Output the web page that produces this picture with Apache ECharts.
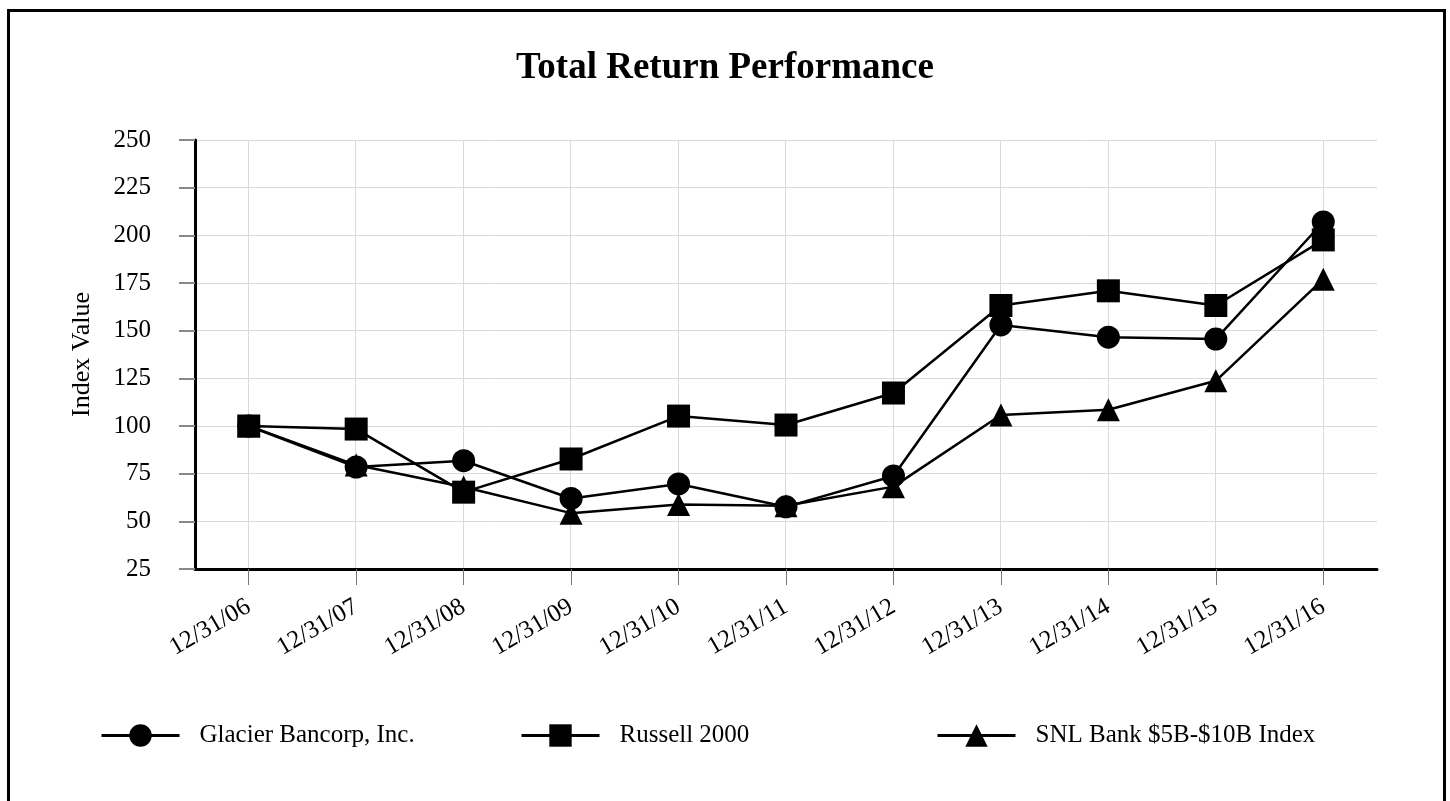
<!DOCTYPE html>
<html>
<head>
<meta charset="utf-8">
<script src="https://cdn.jsdelivr.net/npm/echarts@6/dist/echarts.min.js"></script>
<style>
html,body{margin:0;padding:0;background:#fff;}
#chart{width:1450px;height:801px;}
</style>
</head>
<body>
<div id="chart"></div>
<script>
const categories = ['12/31/06','12/31/07','12/31/08','12/31/09','12/31/10','12/31/11','12/31/12','12/31/13','12/31/14','12/31/15','12/31/16'];
const glacier = [100, 78.5, 81.8, 62, 69.6, 57.6, 73.8, 153, 146.6, 145.6, 207];
const russell = [100, 98.4, 65.3, 82.7, 105.2, 100.5, 117.3, 163.2, 170.9, 163.2, 197.6];
const snl = [100, 79.5, 68, 54.3, 58.8, 58.2, 68.2, 105.8, 108.5, 123.7, 177];
const yTicks = {min: 25, max: 250, interval: 25};
const FONT = 'Liberation Serif';

const chart = echarts.init(document.getElementById('chart'));
const legendBase = {
  orient: 'horizontal', top: 723, padding: 0, itemWidth: 78, itemHeight: 28,
  lineStyle: {width: 3, color: '#000'},
  textStyle: {fontFamily: FONT, fontSize: 25, color: '#000', padding: [0,0,0,15]}
};
const mk = (name, data, symbol) => ({
  name, type: 'line', data, symbol, symbolSize: 23, showSymbol: true,
  xAxisIndex: 0, yAxisIndex: 0,
  lineStyle: {color: '#000', width: 2.5},
  itemStyle: {color: '#000'},
  emphasis: {disabled: true}, animation: false
});
chart.setOption({
  animation: false,
  backgroundColor: '#fff',
  title: {
    text: 'Total Return Performance', left: 'center', top: 45,
    textStyle: {fontFamily: FONT, fontSize: 37, fontWeight: 'bold', color: '#000'}
  },
  graphic: [{
    type: 'rect', shape: {x: 8.5, y: 10.5, width: 1436, height: 820},
    style: {fill: 'none', stroke: '#000', lineWidth: 3}, z: 100, silent: true
  }],
  legend: [
    Object.assign({}, legendBase, {left: 100, data: ['Glacier Bancorp, Inc.']}),
    Object.assign({}, legendBase, {left: 520, data: ['Russell 2000']}),
    Object.assign({}, legendBase, {left: 936, data: ['SNL Bank $5B-$10B Index']})
  ],
  grid: [
    {left: 195, right: 73, top: 140, bottom: 232},
    {left: 248, right: 127, top: 140, bottom: 232}
  ],
  xAxis: [{
    type: 'category', data: categories, boundaryGap: true, gridIndex: 0,
    axisLine: {lineStyle: {color: '#000', width: 3}},
    axisTick: {show: true, alignWithLabel: true, length: 16, lineStyle: {color: '#777', width: 1}},
    axisLabel: {fontFamily: FONT, fontSize: 25, color: '#000', rotate: 30, margin: 36, interval: 0},
    splitLine: {show: false}
  }, {
    type: 'category', data: categories, boundaryGap: false, gridIndex: 1,
    axisLine: {show: false}, axisTick: {show: false}, axisLabel: {show: false},
    splitLine: {show: true, lineStyle: {color: '#d9d9d9', width: 1}}
  }],
  yAxis: [{
    type: 'value', gridIndex: 0, min: yTicks.min, max: yTicks.max, interval: yTicks.interval,
    name: 'Index Value', nameLocation: 'middle', nameGap: 100,
    nameTextStyle: {fontFamily: FONT, fontSize: 26, color: '#000'},
    axisLine: {show: true, lineStyle: {color: '#000', width: 3}},
    axisTick: {show: true, length: 16, lineStyle: {color: '#888', width: 2}},
    axisLabel: {fontFamily: FONT, fontSize: 25, color: '#000', margin: 44},
    splitLine: {show: true, lineStyle: {color: '#d9d9d9', width: 1}}
  }, {
    type: 'value', gridIndex: 1, min: 0, max: 1, show: false, splitLine: {show: false}
  }],
  series: [
    mk('Glacier Bancorp, Inc.', glacier, 'circle'),
    mk('Russell 2000', russell, 'rect'),
    mk('SNL Bank $5B-$10B Index', snl, 'triangle')
  ]
});
</script>
</body>
</html>
